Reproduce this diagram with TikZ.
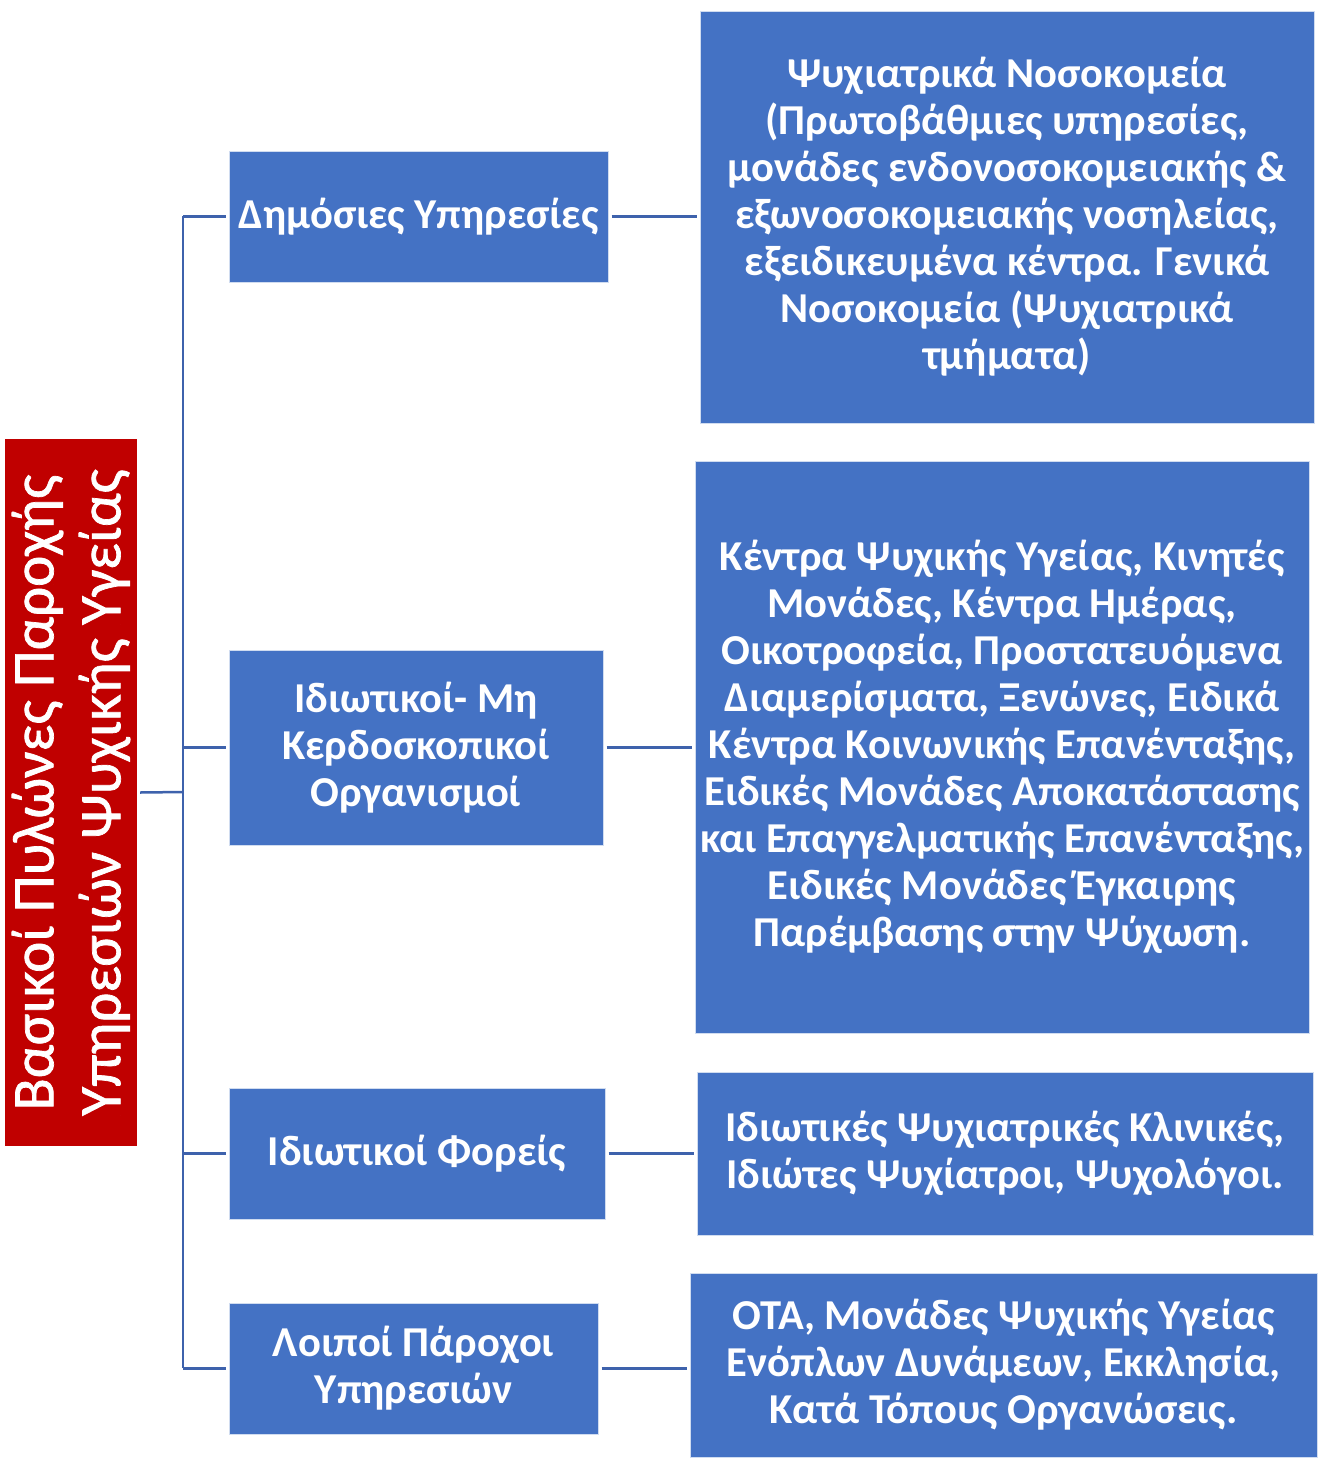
\documentclass[tikz,border=0pt]{standalone}
\usepackage{fontspec}
\setmainfont{Carlito}
\newfontfamily\rootfont[FakeBold=1.2]{Carlito}
\definecolor{boxblue}{RGB}{68,114,196}
\definecolor{boxred}{RGB}{192,0,0}
\definecolor{linkblue}{RGB}{62,98,172}
\begin{document}
\begin{tikzpicture}[x=1pt,y=-1pt,
  box/.style={fill=boxblue,draw=white!75!boxblue,line width=1pt,text=white,
    inner sep=0pt,align=center,font=\bfseries\fontsize{42.6}{47}\selectfont},
  rootbox/.style={fill=boxred,text=white,inner sep=0pt,align=center,
    rotate=90,font=\rootfont\fontsize{59}{67}\selectfont},
  conn/.style={draw=linkblue,line width=2.5pt}]
\useasboundingbox (0,0) rectangle (1318,1459);

% root
\node[rootbox,minimum width=707pt,minimum height=132pt] (root) at (71,792.5)
  {Βασικοί Πυλώνες Παροχής\\Υπηρεσιών Ψυχικής Υγείας};

% categories
\node[box,minimum width=379pt,minimum height=131pt] (c1) at (418.5,216.5)
  {Δημόσιες Υπηρεσίες};
\node[box,minimum width=374pt,minimum height=195pt] (c2) at (416,747.5)
  {Ιδιωτικοί- Μη\\Κερδοσκοπικοί\\Οργανισμοί};
\node[box,minimum width=376pt,minimum height=131pt] (c3) at (417,1153.5)
  {Ιδιωτικοί Φορείς};
\node[box,minimum width=369pt,minimum height=131pt] (c4) at (413.5,1368.5)
  {Λοιποί Πάροχοι\\Υπηρεσιών};

% details
\node[box,minimum width=614pt,minimum height=412pt] (d1) at (1007,217)
  {Ψυχιατρικά Νοσοκομεία\\(Πρωτοβάθμιες υπηρεσίες,\\μονάδες ενδονοσοκομειακής \&\\εξωνοσοκομειακής νοσηλείας,\\εξειδικευμένα κέντρα. Γενικά\\Νοσοκομεία (Ψυχιατρικά\\τμήματα)};
\node[box,minimum width=614pt,minimum height=572pt] (d2) at (1002,747)
  {Κέντρα Ψυχικής Υγείας, Κινητές\\Μονάδες, Κέντρα Ημέρας,\\Οικοτροφεία, Προστατευόμενα\\Διαμερίσματα, Ξενώνες, Ειδικά\\Κέντρα Κοινωνικής Επανένταξης,\\Ειδικές Μονάδες Αποκατάστασης\\και Επαγγελματικής Επανένταξης,\\Ειδικές Μονάδες Έγκαιρης\\Παρέμβασης στην Ψύχωση.};
\node[box,minimum width=616pt,minimum height=163pt] (d3) at (1005,1153.5)
  {Ιδιωτικές Ψυχιατρικές Κλινικές,\\Ιδιώτες Ψυχίατροι, Ψυχολόγοι.};
\node[box,minimum width=627pt,minimum height=184pt] (d4) at (1003.5,1365)
  {ΟΤΑ, Μονάδες Ψυχικής Υγείας\\Ενόπλων Δυνάμεων, Εκκλησία,\\Κατά Τόπους Οργανώσεις.};

% tree trunk
\coordinate (jt) at (183,216);
\coordinate (jb) at (183,1368);
\coordinate (jr) at (183,792);
\draw[conn] (jt) -- (jb);
\draw[conn] ([xshift=3pt]root.south) -- (jr);

% branches to categories
\foreach \c in {c1,c2,c3,c4}
  \draw[conn] (\c.west -| jt) -- ([xshift=-3pt]\c.west);

% category to detail links
\foreach \c/\d in {c1/d1,c2/d2,c3/d3,c4/d4}
  \draw[conn] ([xshift=3pt]\c.east) -- ([xshift=-3pt]\c.east -| \d.west);
\end{tikzpicture}
\end{document}
